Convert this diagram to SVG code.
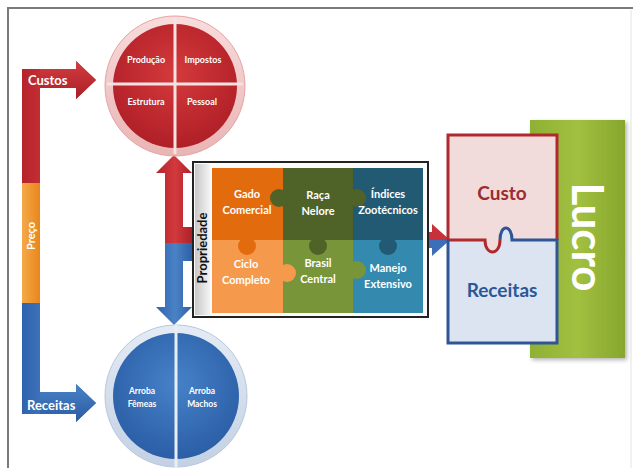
<svg xmlns="http://www.w3.org/2000/svg" width="633" height="468" viewBox="0 0 633 468">
<defs>
<style>
.lbl{font-family:Lato,"Open Sans","Liberation Sans",sans-serif;font-weight:bold;fill:#fff;text-anchor:middle}
.sm{font-size:9px}
.pz{font-size:11px}
.arr{font-size:13px;text-anchor:start}
</style>
<linearGradient id="gRed" x1="0" y1="0" x2="1" y2="0"><stop offset="0" stop-color="#b5232a"/><stop offset="0.5" stop-color="#d2393d"/><stop offset="1" stop-color="#a81f26"/></linearGradient>
<linearGradient id="gRedH" x1="0" y1="0" x2="0" y2="1"><stop offset="0" stop-color="#d43c40"/><stop offset="1" stop-color="#a81f26"/></linearGradient>
<linearGradient id="gBlue" x1="0" y1="0" x2="1" y2="0"><stop offset="0" stop-color="#2f63ad"/><stop offset="0.5" stop-color="#4b82c6"/><stop offset="1" stop-color="#2a5ca3"/></linearGradient>
<linearGradient id="gBlueH" x1="0" y1="0" x2="0" y2="1"><stop offset="0" stop-color="#4a82c6"/><stop offset="1" stop-color="#2a5ca3"/></linearGradient>
<linearGradient id="gOr" x1="0" y1="0" x2="1" y2="0"><stop offset="0" stop-color="#f5a94a"/><stop offset="1" stop-color="#e8861c"/></linearGradient>
<radialGradient id="gRedC" cx="0.5" cy="0.4" r="0.6"><stop offset="0" stop-color="#d43a3c"/><stop offset="1" stop-color="#b01f27"/></radialGradient>
<radialGradient id="gBlueC" cx="0.5" cy="0.4" r="0.6"><stop offset="0" stop-color="#4682c8"/><stop offset="1" stop-color="#2b5ea6"/></radialGradient>
<linearGradient id="gRing1" x1="0" y1="0" x2="0" y2="1"><stop offset="0" stop-color="#f8dcdc"/><stop offset="1" stop-color="#eab4b4"/></linearGradient>
<linearGradient id="gRing2" x1="0" y1="0" x2="0" y2="1"><stop offset="0" stop-color="#e4ebf4"/><stop offset="1" stop-color="#c3d1e4"/></linearGradient>
<linearGradient id="gStrip" x1="0" y1="0" x2="1" y2="0"><stop offset="0" stop-color="#c8c8c8"/><stop offset="1" stop-color="#f4f4f4"/></linearGradient>
<linearGradient id="gLucro" x1="0" y1="0" x2="1" y2="0"><stop offset="0" stop-color="#8fb033"/><stop offset="0.5" stop-color="#a2c040"/><stop offset="1" stop-color="#86a62c"/></linearGradient>
<filter id="sh" x="-10%" y="-10%" width="130%" height="130%"><feDropShadow dx="2" dy="2" stdDeviation="2" flood-color="#000" flood-opacity="0.3"/></filter>
</defs>
<rect width="633" height="468" fill="#fff"/>
<path d="M8,472 V8 H633" fill="none" stroke="#7a7a7a" stroke-width="2"/>
<line x1="631" y1="10" x2="631" y2="468" stroke="#e4e4e4" stroke-width="1"/>

<g id="connectors">
  <path d="M22,69 H76 V61 L96,80 L76,99 V88 H40 V183 H22 Z" fill="url(#gRed)"/>
  <path d="M40,69 H76 V61 L96,80 L76,99 V88 H40 Z" fill="url(#gRedH)"/>
  <rect id="preco" x="22" y="183" width="18" height="120" fill="url(#gOr)"/>
  <path d="M22,303 H40 V392 H76 V384 L96,403 L76,422 V414 H22 Z" fill="url(#gBlue)"/>
  <path d="M40,392 H76 V384 L96,403 L76,422 V414 H40 Z" fill="url(#gBlueH)"/>
  <text class="lbl arr" x="28" y="85">Custos</text>
  <text class="lbl arr" x="27" y="410">Receitas</text>
  <text class="lbl" font-size="11" transform="translate(35,236) rotate(-90)">Preço</text>

  <path d="M174,155 L192,173 H183 V227 H194 V243 H165 V173 H156 Z" fill="url(#gRed)"/>
  <path d="M165,243 H194 V261 H183 V307 H192 L174,325 L156,307 H165 Z" fill="url(#gBlue)"/>

  <path d="M428,232 H432 V224 L450,240 H428 Z" fill="#c8303a"/>
  <path d="M428,240 H450 L432,256 V248 H428 Z" fill="#3c6fb8"/>
</g>

<g id="node-custos-circulo">
  <circle cx="175" cy="86" r="70" fill="url(#gRing1)" stroke="#e6a4a4" stroke-width="1"/>
  <circle cx="175" cy="86" r="62" fill="url(#gRedC)"/>
  <line x1="175" y1="18" x2="175" y2="154" stroke="#f7e2e2" stroke-width="3"/>
  <line x1="107" y1="84" x2="243" y2="84" stroke="#f7e2e2" stroke-width="3"/>
  <text class="lbl sm" x="146" y="63">Produção</text>
  <text class="lbl sm" x="203" y="63">Impostos</text>
  <text class="lbl sm" x="146" y="105">Estrutura</text>
  <text class="lbl sm" x="202" y="105">Pessoal</text>
</g>

<g id="node-receitas-circulo">
  <circle cx="176" cy="396" r="71" fill="url(#gRing2)" stroke="#b8c8de" stroke-width="1"/>
  <circle cx="176" cy="396" r="63" fill="url(#gBlueC)"/>
  <line x1="176" y1="325" x2="176" y2="468" stroke="#e8eef6" stroke-width="3"/>
  <text class="lbl" font-size="8.5" x="142" y="394">Arroba</text>
  <text class="lbl" font-size="8.5" x="142" y="407">Fêmeas</text>
  <text class="lbl" font-size="8.5" x="202" y="394">Arroba</text>
  <text class="lbl" font-size="8.5" x="202" y="407">Machos</text>
</g>

<g id="node-propriedade">
  <rect x="193" y="162" width="235" height="155" fill="#fbfbfb" stroke="#222" stroke-width="2"/>
  <rect x="195" y="164" width="15" height="151" fill="url(#gStrip)"/>
  <text font-family="Lato,'Open Sans','Liberation Sans',sans-serif" font-weight="bold" font-size="13" fill="#111" text-anchor="middle" transform="translate(207,248) rotate(-90)">Propriedade</text>
  <rect x="212" y="168" width="71" height="72" fill="#e26b0e"/>
  <rect x="212" y="240" width="71" height="73" fill="#f59a4c"/>
  <rect x="283" y="168" width="70" height="72" fill="#4f6228"/>
  <rect x="283" y="240" width="70" height="73" fill="#78953a"/>
  <rect x="353" y="168" width="70" height="72" fill="#215a72"/>
  <rect x="353" y="240" width="70" height="73" fill="#338aae"/>
  <circle cx="279" cy="198" r="9" fill="#4f6228"/>
  <circle cx="357" cy="198" r="9" fill="#4f6228"/>
  <circle cx="247" cy="246" r="9" fill="#e26b0e"/>
  <circle cx="318" cy="246" r="9" fill="#4f6228"/>
  <circle cx="388" cy="246" r="9" fill="#215a72"/>
  <circle cx="287" cy="273" r="9" fill="#f59a4c"/>
  <circle cx="357" cy="270" r="9" fill="#78953a"/>
  <text class="lbl pz" x="247" y="198">Gado</text>
  <text class="lbl pz" x="247" y="214">Comercial</text>
  <text class="lbl pz" x="318" y="199">Raça</text>
  <text class="lbl pz" x="318" y="215">Nelore</text>
  <text class="lbl pz" x="388" y="198">Índices</text>
  <text class="lbl pz" x="388" y="214">Zootécnicos</text>
  <text class="lbl pz" x="246" y="268">Ciclo</text>
  <text class="lbl pz" x="246" y="284">Completo</text>
  <text class="lbl pz" x="318" y="267">Brasil</text>
  <text class="lbl pz" x="318" y="283">Central</text>
  <text class="lbl pz" x="388" y="272">Manejo</text>
  <text class="lbl pz" x="388" y="288">Extensivo</text>
</g>

<g id="node-lucro">
  <rect x="530" y="120" width="95" height="238" fill="url(#gLucro)" filter="url(#sh)"/>
  <text font-family="Lato,'Open Sans','Liberation Sans',sans-serif" font-weight="bold" font-size="44" fill="#fff" text-anchor="middle" transform="translate(572,237) rotate(90)">Lucro</text>
</g>

<g id="node-custo-receitas">
  <path d="M448,135 H557 V240 H512 C512,224 500,224 500,240 C500,256 485,256 485,240 H448 Z" fill="#f2dcdb"/>
  <path d="M448,240 H485 C485,256 500,256 500,240 C500,224 512,224 512,240 H557 V343 H448 Z" fill="#dce4f1"/>
  <path d="M448,240 V135 H557 V240" fill="none" stroke="#b0292e" stroke-width="3"/>
  <path d="M448,240 H485 C485,256 500,256 500,240" fill="none" stroke="#b0292e" stroke-width="3"/>
  <path d="M448,240 V343 H557 V240 H512 C512,224 500,224 500,240" fill="none" stroke="#2f5597" stroke-width="3"/>
  <text font-family="Lato,'Open Sans','Liberation Sans',sans-serif" font-weight="bold" font-size="19" fill="#9b2d30" text-anchor="middle" x="502" y="200">Custo</text>
  <text font-family="Lato,'Open Sans','Liberation Sans',sans-serif" font-weight="bold" font-size="19" fill="#2b5797" text-anchor="middle" x="502" y="297">Receitas</text>
</g>
</svg>
